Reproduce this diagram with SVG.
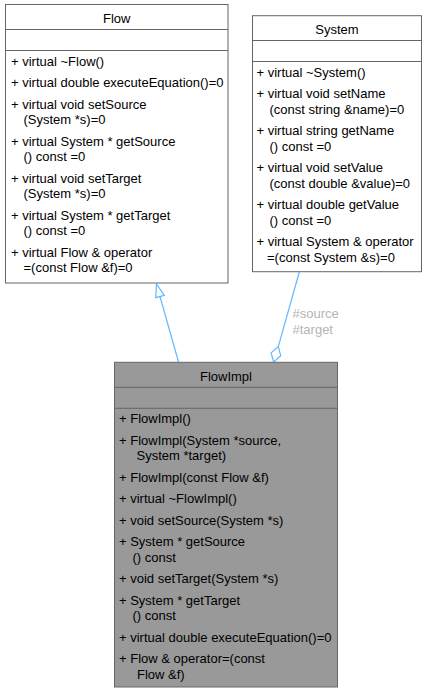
<svg xmlns="http://www.w3.org/2000/svg" width="427" height="693" viewBox="0 0 427 693">
<style>
text{font-family:"Liberation Sans",Arial,sans-serif;font-size:13px;fill:#000}
.t{text-anchor:middle}
.box{fill:#fff;stroke:#666;stroke-width:1}
.cur{fill:#999;stroke:#666;stroke-width:1}
.div{stroke:#666;stroke-width:1;fill:none}
.edge{stroke:#63B8FF;stroke-width:1.2;fill:none}
.head{stroke:#63B8FF;stroke-width:1.2;fill:#fff}
.lbl{fill:#b4b4b4}
</style>
<rect width="427" height="693" fill="#fff"/>
<g id="connectors">
<path class="edge" d="M178.5,362 L160,296.5"/>
<polygon class="head" points="156.5,284 164.3,295.3 155.7,297.7"/>
<path class="edge" d="M299.3,272 L278.3,346.6"/>
<polygon class="head" points="273.7,362 271.1,352.9 278.3,346.6 280.7,355.7"/>
<text class="lbl" x="292.5" y="318.3">#source</text>
<text class="lbl" x="292.5" y="333.8">#target</text>
</g>
<g id="Flow">
<rect class="box" x="5.5" y="4.5" width="222.5" height="278.5"/>
<path class="div" d="M5.5,29.5H228M5.5,50.5H228"/>
<text class="t" x="116.7" y="23">Flow</text>
<text x="11" y="65.5">+ virtual ~Flow()</text>
<text x="11" y="87">+ virtual double executeEquation()=0</text>
<text x="11" y="108.5">+ virtual void setSource</text>
<text x="23.5" y="124">(System *s)=0</text>
<text x="11" y="145.5">+ virtual System * getSource</text>
<text x="23.5" y="161">() const =0</text>
<text x="11" y="182.5">+ virtual void setTarget</text>
<text x="23.5" y="198">(System *s)=0</text>
<text x="11" y="219.5">+ virtual System * getTarget</text>
<text x="23.5" y="235">() const =0</text>
<text x="11" y="256.5">+ virtual Flow &amp; operator</text>
<text x="23.5" y="272">=(const Flow &amp;f)=0</text>
</g>
<g id="System">
<rect class="box" x="252.5" y="15.7" width="169" height="256"/>
<path class="div" d="M252.5,40.5H421.5M252.5,61.5H421.5"/>
<text class="t" x="337" y="34.2">System</text>
<text x="256.5" y="76.7">+ virtual ~System()</text>
<text x="256.5" y="98.2">+ virtual void setName</text>
<text x="269.5" y="113.7">(const string &amp;name)=0</text>
<text x="256.5" y="135.2">+ virtual string getName</text>
<text x="269.5" y="150.7">() const =0</text>
<text x="256.5" y="172.2">+ virtual void setValue</text>
<text x="269.5" y="187.7">(const double &amp;value)=0</text>
<text x="256.5" y="209.2">+ virtual double getValue</text>
<text x="269.5" y="224.7">() const =0</text>
<text x="256.5" y="246.2">+ virtual System &amp; operator</text>
<text x="267" y="261.7">=(const System &amp;s)=0</text>
</g>
<g id="FlowImpl">
<rect class="cur" x="114.5" y="362.3" width="223" height="324.7"/>
<path class="div" d="M114.5,387.3H337.5M114.5,408.3H337.5"/>
<text class="t" x="226" y="380.8">FlowImpl</text>
<text x="119" y="423.3">+ FlowImpl()</text>
<text x="119" y="444.8">+ FlowImpl(System *source,</text>
<text x="136.5" y="460.3">System *target)</text>
<text x="119" y="481.8">+ FlowImpl(const Flow &amp;f)</text>
<text x="119" y="503.3">+ virtual ~FlowImpl()</text>
<text x="119" y="524.8">+ void setSource(System *s)</text>
<text x="119" y="546.3">+ System * getSource</text>
<text x="132.5" y="561.8">() const</text>
<text x="119" y="583.3">+ void setTarget(System *s)</text>
<text x="119" y="604.8">+ System * getTarget</text>
<text x="132.5" y="620.3">() const</text>
<text x="119" y="641.8">+ virtual double executeEquation()=0</text>
<text x="119" y="663.3">+ Flow &amp; operator=(const</text>
<text x="137" y="678.8">Flow &amp;f)</text>
</g>
</svg>
